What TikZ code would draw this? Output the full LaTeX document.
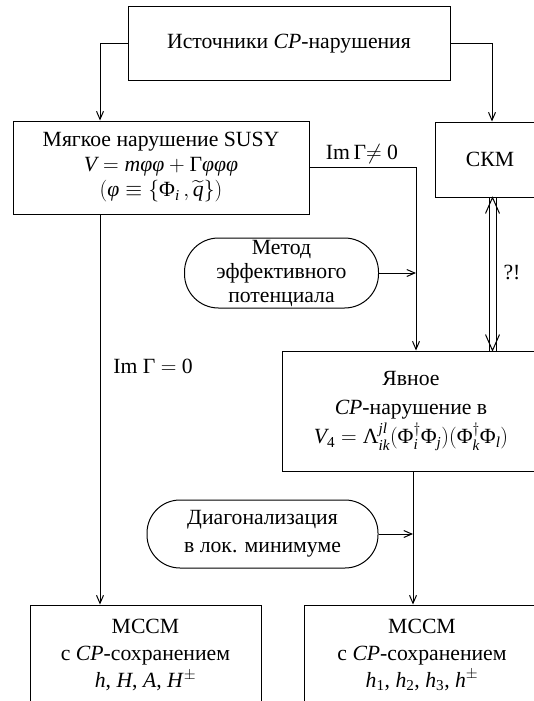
\RequirePackage{fix-cm}
\documentclass[tikz,border=0pt]{standalone}
\usepackage{amsmath}
\usepackage{fontspec}
\setmainfont{Liberation Serif}
\usetikzlibrary{arrows.meta}
\newcommand{\mi}[1]{\text{\itshape #1}}
\newcommand{\up}[1]{\text{#1}}
\begin{document}
\begin{tikzpicture}[x=1pt,y=-1pt, line width=1pt,
  >={Straight Barb[length=8pt,width=7pt]},
  every node/.style={font=\fontsize{21.7}{27}\selectfont, align=center, inner sep=0pt},
  box/.style={draw, rectangle},
  pill/.style={draw, rectangle, rounded corners=#1},
  lbl/.style={}]
\useasboundingbox (0,0) rectangle (533,701);

\node[box, minimum width=322, minimum height=73] (top) at (289,43.5) {Источники \textit{CP}-нарушения};
\node[box, minimum width=296, minimum height=93] (susy) at (161,167.5) {Мягкое нарушение SUSY\\[-2pt] $\mi{V} = \mi{m}\mi{φφ} + \up{Γ}\mi{φφφ}$\\[-2pt] $(\mi{φ} \equiv \{\up{Φ}_{\mi{i}}\,, \widetilde{\mi{q}}\})$};
\node[box, minimum width=110, minimum height=75] (ckm) at (490,159.5) {СКМ};
\node[pill=34, minimum width=194, minimum height=70, font=\fontsize{21.7}{24}\selectfont] (method) at (281.5,273) {Метод\\ эффективного\\ потенциала};
\node[box, minimum width=258, minimum height=120] (expl) at (411,411) {Явное\\[2pt] \textit{CP}-нарушение в\\[2pt] $\mi{V}_{\up{4}} = \up{Λ}^{\mi{jl}}_{\mi{ik}}(\up{Φ}^{\dagger}_{\mi{i}}\up{Φ}_{\mi{j}})(\up{Φ}^{\dagger}_{\mi{k}}\up{Φ}_{\mi{l}})$};
\node[pill=33, minimum width=231, minimum height=68, font=\fontsize{21.7}{28}\selectfont] (diag) at (262.5,534) {Диагонализация\\ в лок. минимуме};
\node[box, minimum width=231, minimum height=100] (bl) at (145.5,655) {МССМ\\ с \textit{CP}-сохранением\\ \textit{h}, \textit{H}, \textit{A}, \textit{H}$^{\pm}$};
\node[box, minimum width=236, minimum height=100] (br) at (422,655) {МССМ\\ с \textit{CP}-сохранением\\ $\mi{h}_{\up{1}}$, $\mi{h}_{\up{2}}$, $\mi{h}_{\up{3}}$, $\mi{h}^{\pm}$};

\node[lbl] (lne) at (362,154) {Im\,Γ$\neq$ 0};
\node[lbl] (leq) at (153,366) {Im Γ $=$ 0};
\node[lbl] (lq) at (512,272) {?!};

\coordinate (lx) at (100,0);
\coordinate (rx1) at (416,0);
\coordinate (rx2) at (413,0);
\coordinate (dl) at (489,0);
\coordinate (dr) at (496,0);
\coordinate (dx) at (492.5,0);

\draw[->] (top.west) -| (susy.north -| lx);
\draw[->] (top.east) -| ([xshift=2]ckm.north);
\draw[->] (susy.east) -| (expl.north -| rx1);
\draw[->] (method.east) -- (method.east -| rx1);
\draw[->] (susy.south -| lx) -- (bl.north -| lx);
\draw[->] (expl.south -| rx2) -- (br.north -| rx2);
\draw[->] (diag.east) -- (diag.east -| rx2);

\draw (ckm.south -| dl) -- (expl.north -| dl);
\draw (ckm.south -| dr) -- (expl.north -| dr);
\coordinate (dtop) at (ckm.south -| dx);
\coordinate (dbot) at (expl.north -| dx);
\draw ([shift={(-7,16)}]dtop) -- (dtop) -- ([shift={(7,16)}]dtop);
\draw ([shift={(-7,-16)}]dbot) -- (dbot) -- ([shift={(7,-16)}]dbot);
\end{tikzpicture}
\end{document}
